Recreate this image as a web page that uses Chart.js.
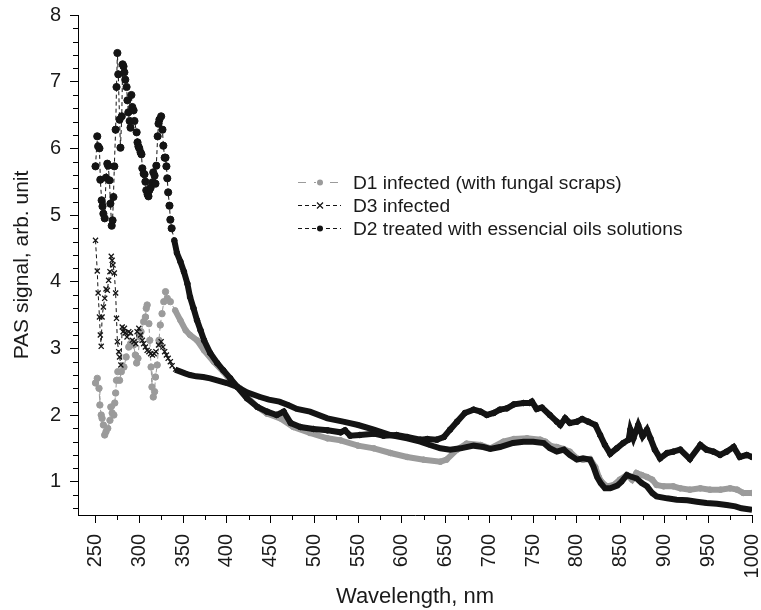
<!DOCTYPE html>
<html>
<head>
<meta charset="utf-8">
<script src="https://cdn.jsdelivr.net/npm/chart.js@4.4.1/dist/chart.umd.min.js"></script>
<style>
  html, body { margin: 0; padding: 0; background: #fff; }
  #wrap { width: 761px; height: 610px; }
</style>
</head>
<body>
<div id="wrap"><canvas id="pas" width="761" height="610"></canvas></div>
<script>
// Photoacoustic spectra, 250–1000 nm
const xTickValues = [250, 300, 350, 400, 450, 500, 550, 600, 650, 700, 750, 800, 850, 900, 950, 1000];
const yTickValues = [1, 2, 3, 4, 5, 6, 7, 8];

const seriesLabels = [
  'D1 infected (with fungal scraps)',
  'D3 infected',
  'D2 treated with essencial oils solutions'
];

// D1 infected (with fungal scraps)
const d1Wavelength = [250,252,254,255,256.5,257.5,259,260.5,262,264,266.5,267.5,269,271,272,273,274,275.5,277.5,279.5,282.5,285,288,290,293.5,295.5,297,298.5,300.5,302,305,307,308,309,311,312,313.5,314.5,316,317.5,318.5,320.5,322.5,324,326,328,330,332,335.5,
  341,347,353,358,366,374,385,396,404,415,423,435,446,461,476,495,515,530,550,568,587,606,625,644,651,663,674,690,701,716,728,743,758,764,771,777,785,792,800,807,815,821,825,828,834,842,849,857,863,868,874,880,886,891,899,910,918,929,941,952,964,975,983,990,1000];
const d1Signal = [2.48,2.55,2.4,2.15,2.0,1.95,1.85,1.7,1.75,1.8,1.92,2.12,2.03,2.0,2.18,2.33,2.52,2.65,2.52,2.65,2.72,2.87,3.02,3.07,3.05,2.9,2.78,2.85,3.17,3.25,3.4,3.47,3.6,3.65,3.37,3.12,2.72,2.42,2.27,2.35,2.57,2.75,3.12,3.35,3.52,3.7,3.85,3.75,3.7,
  3.57,3.42,3.27,3.2,3.12,2.97,2.8,2.65,2.52,2.4,2.27,2.12,2.02,1.95,1.82,1.73,1.65,1.62,1.54,1.5,1.43,1.37,1.33,1.3,1.33,1.48,1.57,1.55,1.5,1.6,1.64,1.65,1.63,1.6,1.53,1.52,1.49,1.45,1.35,1.33,1.34,1.22,1.07,1.0,0.93,0.95,1.03,1.1,1.03,1.13,1.1,1.07,1.03,0.95,0.93,0.93,0.9,0.88,0.9,0.88,0.88,0.9,0.88,0.83,0.83];

// D3 infected
const d3Wavelength = [250,252,253,254.5,255.5,256.5,257.5,259,260.5,262,263.5,265,266.5,268,269,270,271.5,273,274,275,276.5,277.5,279,280.5,281.5,283,284,286,288,290,292,294,296,297.5,299.5,301.5,303.5,305,307,309,311,313,315,317,319,322,325,327,329,331,333,335.5,337.5,
  341,347,353,358,365,373,381,389,400,412,423,438,448,460,470,480,495,515,533,550,568,587,606,621,632,644,655,667,682,693,701,712,727,739,750,762,769,777,785,792,800,807,815,819,823,827,832,838,846,851,857,863,868,874,880,886,891,903,914,926,937,948,960,971,981,988,1000];
const d3Signal = [4.62,4.16,3.83,3.47,3.2,3.03,3.47,3.62,3.75,3.89,3.87,4.02,4.15,4.38,4.32,4.25,4.13,3.83,3.45,3.1,2.95,2.87,2.75,3.32,3.25,3.3,3.23,3.17,3.25,3.23,3.12,3.1,3.07,3.25,3.3,3.2,3.12,3.07,3.02,2.97,2.95,2.92,2.9,2.92,2.95,3.05,3.1,3.02,2.95,2.9,2.85,2.8,2.74,
  2.68,2.65,2.62,2.6,2.58,2.57,2.55,2.52,2.48,2.42,2.34,2.27,2.23,2.2,2.15,2.09,2.05,1.95,1.9,1.85,1.78,1.7,1.65,1.6,1.55,1.5,1.48,1.5,1.54,1.52,1.49,1.52,1.58,1.6,1.6,1.58,1.5,1.45,1.48,1.4,1.33,1.35,1.33,1.22,1.07,0.98,0.9,0.9,0.94,1.0,1.1,1.07,1.05,0.98,0.93,0.83,0.78,0.75,0.73,0.72,0.7,0.68,0.67,0.65,0.63,0.6,0.58];

// D2 treated with essential oil solutions
const d2Wavelength = [250,252,253,254.5,255.5,257,258,259,260.5,262,263.5,264.5,266,267,268.5,269.5,270.5,271.5,273,274,275,276,277.5,278.5,280,281,282,283,284,285.5,286.5,287.5,289,290,291,292,293.5,294.5,297,298,299,300,301.5,302.5,303.5,305,306,307,308,309.5,310.5,311.5,313,315,316,317.5,318.5,319.5,321,322,323,325,326.5,327.5,329,330,331,332,333,334.5,335.5,337,
  340,343,347,351,355,358,362,366,370,374,381,389,396,404,412,423,435,446,457,465,473,484,499,515,530,535,541,552,568,579,594,606,621,629,640,648,655,663,672,682,690,697,705,712,720,728,739,746,748.5,754,760,769,777,781,786.5,792,800,806,813,821,826.5,832,838,845.5,853,859,861,864.5,870,875,880,884,889,895,903,910,918,929,941,948,956,963.5,971,979,986,994,1000];
const d2Signal = [5.73,6.18,6.03,6.0,5.53,5.22,5.13,5.02,4.95,5.56,5.77,5.74,5.52,5.17,4.84,4.92,5.27,5.73,6.28,6.92,7.43,7.11,6.43,6.01,6.48,7.26,7.23,7.14,7.03,6.92,6.72,6.54,6.41,6.31,6.8,6.62,6.57,6.41,6.24,6.09,6.03,6.0,5.94,5.91,5.7,5.62,5.61,5.5,5.37,5.31,5.28,5.37,5.41,5.49,5.64,5.59,5.47,5.74,6.18,6.37,6.43,6.48,6.28,6.04,5.86,5.86,5.73,5.55,5.34,5.14,4.93,4.8,
  4.62,4.43,4.3,4.15,3.97,3.77,3.6,3.42,3.27,3.12,2.93,2.78,2.67,2.55,2.42,2.25,2.12,2.05,2.0,2.05,1.88,1.82,1.79,1.77,1.74,1.77,1.69,1.7,1.72,1.69,1.7,1.67,1.63,1.64,1.63,1.67,1.78,1.9,2.03,2.08,2.05,2.0,2.03,2.08,2.1,2.16,2.18,2.18,2.2,2.09,2.11,2.0,1.9,1.85,1.95,1.88,1.9,1.94,1.9,1.85,1.7,1.55,1.42,1.5,1.58,1.63,1.78,1.65,1.85,1.68,1.78,1.65,1.48,1.35,1.43,1.45,1.48,1.34,1.55,1.48,1.45,1.4,1.45,1.52,1.37,1.4,1.37];

// Below this wavelength the samples are drawn as separate markers joined by a
// thin dashed line; above it they are so close they merge into a thick trace.
const DENSE_FROM = 338.5;

const FONT = '"Liberation Sans", Arial, Helvetica, sans-serif';
const GREY = '#9b9b9b';
const INK = '#141414';
const TEXT = '#1a1a1a';

function toPoints(xs, ys) {
  return xs.map((x, i) => ({ x: x, y: ys[i] }));
}

function makeDataset(label, xs, ys, color, pointStyle, radius, order) {
  return {
    label: label,
    data: toPoints(xs, ys),
    borderColor: color,
    backgroundColor: color,
    pointBackgroundColor: color,
    pointBorderColor: color,
    pointStyle: pointStyle,
    pointBorderWidth: pointStyle === 'crossRot' ? 1.3 : 1,
    pointRadius: ctx => (ctx.parsed && ctx.parsed.x >= DENSE_FROM ? 2.8 : radius),
    pointHoverRadius: radius,
    borderWidth: 1,
    tension: 0,
    order: order,
    segment: {
      borderWidth: ctx => (ctx.p0.parsed.x >= DENSE_FROM ? 6 : 1),
      borderDash: ctx => (ctx.p0.parsed.x >= DENSE_FROM ? [] : [4, 3])
    }
  };
}

// Legend drawn inside the plot, next to the curves
const insetLegend = {
  id: 'insetLegend',
  afterDatasetsDraw(chart) {
    const ctx = chart.ctx;
    const area = chart.chartArea;
    const x0 = area.left + 220;
    const rows = [area.top + 167.5, area.top + 190.5, area.top + 213.5];
    const dashes = [[8, 8], [4, 3], [4, 3]];
    ctx.save();
    chart.data.datasets.forEach((ds, i) => {
      const y = rows[i];
      ctx.strokeStyle = ds.borderColor;
      ctx.lineWidth = 1;
      ctx.setLineDash(dashes[i]);
      ctx.beginPath();
      ctx.moveTo(x0, y);
      ctx.lineTo(x0 + 43, y);
      ctx.stroke();
      ctx.setLineDash([]);
      ctx.fillStyle = '#fff';
      ctx.fillRect(x0 + 18, y - 4, 8, 8);
      ctx.fillStyle = ds.borderColor;
      const cx = x0 + 22;
      if (ds.pointStyle === 'crossRot') {
        ctx.lineWidth = 1.2;
        ctx.beginPath();
        ctx.moveTo(cx - 3, y - 3); ctx.lineTo(cx + 3, y + 3);
        ctx.moveTo(cx + 3, y - 3); ctx.lineTo(cx - 3, y + 3);
        ctx.stroke();
      } else {
        ctx.beginPath();
        ctx.arc(cx, y, 3, 0, Math.PI * 2);
        ctx.fill();
      }
      ctx.fillStyle = TEXT;
      ctx.font = '19.2px ' + FONT;
      ctx.textBaseline = 'middle';
      ctx.textAlign = 'left';
      ctx.fillText(ds.label, x0 + 55, y + 1);
    });
    ctx.restore();
  }
};

// Short minor ticks between the labelled ones
const minorTicks = {
  id: 'minorTicks',
  afterDraw(chart) {
    const ctx = chart.ctx;
    const xs = chart.scales.x;
    const ys = chart.scales.y;
    ctx.save();
    ctx.strokeStyle = '#000';
    ctx.lineWidth = 1;
    ctx.beginPath();
    for (let i = 0; i < xTickValues.length - 1; i++) {
      const v = (xTickValues[i] + xTickValues[i + 1]) / 2;
      const px = Math.round(xs.getPixelForValue(v)) + 0.5;
      ctx.moveTo(px, ys.bottom);
      ctx.lineTo(px, ys.bottom + 5);
    }
    for (let k = 3; k < 40; k++) {
      const v = k / 5;
      if (Math.abs(v - Math.round(v)) < 1e-6) continue;
      const py = Math.round(ys.getPixelForValue(v)) + 0.5;
      ctx.moveTo(xs.left - 5, py);
      ctx.lineTo(xs.left, py);
    }
    ctx.stroke();
    ctx.restore();
  }
};

new Chart(document.getElementById('pas'), {
  type: 'line',
  data: {
    datasets: [
      makeDataset(seriesLabels[0], d1Wavelength, d1Signal, GREY, 'circle', 3.2, 3),
      makeDataset(seriesLabels[1], d3Wavelength, d3Signal, INK, 'crossRot', 3.6, 2),
      makeDataset(seriesLabels[2], d2Wavelength, d2Signal, INK, 'circle', 3.6, 1)
    ]
  },
  options: {
    responsive: false,
    devicePixelRatio: 1,
    animation: false,
    layout: { padding: { left: 0, right: 9, top: 15, bottom: 0 } },
    plugins: { legend: { display: false }, tooltip: { enabled: false } },
    scales: {
      x: {
        type: 'linear',
        min: 230,
        max: 1000,
        afterBuildTicks: axis => { axis.ticks = xTickValues.map(v => ({ value: v })); },
        afterFit: scale => {
          scale.height = 95;
          scale.paddingLeft = 0;
          scale.paddingRight = 0;
        },
        grid: { drawOnChartArea: false, tickLength: 8, color: '#000', tickColor: '#000' },
        border: { display: true, color: '#000', width: 1 },
        ticks: {
          autoSkip: false,
          minRotation: 90,
          maxRotation: 90,
          padding: 11,
          color: TEXT,
          font: { family: FONT, size: 20 },
          callback: v => String(v)
        },
        title: {
          display: true,
          text: 'Wavelength, nm',
          color: TEXT,
          font: { family: FONT, size: 22 },
          padding: { top: 0, bottom: 0 }
        }
      },
      y: {
        min: 0.5,
        max: 8,
        afterBuildTicks: axis => { axis.ticks = yTickValues.map(v => ({ value: v })); },
        afterFit: scale => {
          scale.width = 78;
          scale.paddingTop = 0;
          scale.paddingBottom = 0;
        },
        grid: { drawOnChartArea: false, tickLength: 8, color: '#000', tickColor: '#000' },
        border: { display: true, color: '#000', width: 1 },
        ticks: {
          padding: 9,
          color: TEXT,
          font: { family: FONT, size: 20 },
          callback: v => String(v)
        },
        title: {
          display: true,
          text: 'PAS signal, arb. unit',
          color: TEXT,
          font: { family: FONT, size: 21 },
          padding: { top: 10, bottom: 0 }
        }
      }
    }
  },
  plugins: [insetLegend, minorTicks]
});
</script>
</body>
</html>
